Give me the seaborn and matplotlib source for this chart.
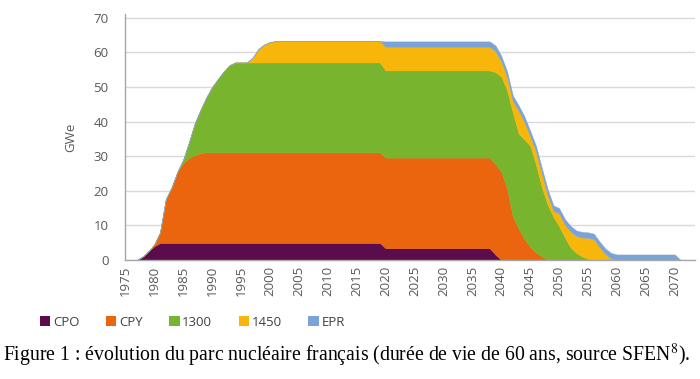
import matplotlib
matplotlib.use("Agg")
import matplotlib.pyplot as plt
from matplotlib.patches import Patch
import seaborn as sns
import pandas as pd

# ---- data (GWe, stacked by reactor series) ----
years = [1975, 1977, 1978, 1979, 1980, 1981, 1982, 1983, 1984, 1985, 1986, 1987, 1988,
         1989, 1990, 1991, 1992, 1993, 1994, 1996, 1997, 1998, 1999, 2000, 2001, 2019,
         2020, 2038, 2039, 2040, 2041, 2042, 2043, 2044, 2045, 2046, 2047, 2048, 2049,
         2050, 2051, 2052, 2053, 2054, 2055, 2056, 2057, 2058, 2059, 2060, 2070, 2071, 2073]

cpo = [0, 0, 1, 2.5, 4, 4.9, 4.9, 4.9, 4.9, 4.9, 4.9, 4.9, 4.9,
       4.9, 4.9, 4.9, 4.9, 4.9, 4.9, 4.9, 4.9, 4.9, 4.9, 4.9, 4.9, 4.9,
       3.4, 3.4, 1.5, 0, 0, 0, 0, 0, 0, 0, 0, 0, 0,
       0, 0, 0, 0, 0, 0, 0, 0, 0, 0, 0, 0, 0, 0]

cpy = [0, 0, 0, 0, 0.5, 3.1, 12.7, 16.1, 20.6, 23.1, 24.6, 25.4, 26.0,
       26.2, 26.2, 26.2, 26.2, 26.2, 26.2, 26.2, 26.2, 26.2, 26.2, 26.2, 26.2, 26.2,
       26.2, 26.2, 26.1, 25.5, 20.5, 12.5, 9, 6, 3.8, 2.2, 1.0, 0.3, 0,
       0, 0, 0, 0, 0, 0, 0, 0, 0, 0, 0, 0, 0, 0]

s1300 = [0, 0, 0, 0, 0, 0, 0, 0, 0, 1, 4.5, 9.2, 12.5,
         15.9, 18.9, 21.2, 23.4, 25.2, 26.0, 26.0, 26.0, 26.0, 26.0, 26.0, 26.0, 26.0,
         25.2, 25.2, 26.7, 27.5, 28.5, 30, 27.5, 28.8, 29.2, 25.3, 20, 15.7, 12.5,
         9.7, 6.5, 3.5, 2, 1, 0.3, 0, 0, 0, 0, 0, 0, 0, 0]

s1450 = [0, 0, 0, 0, 0, 0, 0, 0, 0, 0, 0, 0, 0,
         0, 0, 0, 0, 0, 0, 0, 1.4, 3.9, 5.2, 5.9, 6.2, 6.2,
         6.8, 6.8, 6.1, 4.4, 3.9, 3.4, 6.6, 5.1, 2.7, 3.9, 4.0, 2.9, 1.7,
         3.7, 3.7, 4.7, 4.9, 5.5, 6.1, 6.0, 3.7, 1.7, 0.4, 0, 0, 0, 0]

epr = [0, 0, 0, 0, 0, 0, 0, 0, 0, 0, 0, 0, 0,
       0, 0, 0, 0, 0, 0, 0, 0, 0, 0, 0, 0, 0,
       1.6, 1.6, 1.6, 1.6, 1.6, 1.6, 1.6, 1.6, 1.6, 1.6, 1.6, 1.6, 1.6,
       1.6, 1.6, 1.6, 1.6, 1.6, 1.6, 1.6, 1.6, 1.6, 1.6, 1.6, 1.6, 0, 0]

series = ["CPO", "CPY", "1300", "1450", "EPR"]
colors = ["#5C0B4C", "#EA650D", "#78B42D", "#F8B60A", "#7AA3D8"]
xticks = list(range(1975, 2071, 5))
yticks = list(range(0, 71, 10))
caption = "Figure 1 : évolution du parc nucléaire français (durée de vie de 60 ans, source SFEN$^{8}$)."

df = pd.DataFrame({"year": years, "CPO": cpo, "CPY": cpy, "1300": s1300,
                   "1450": s1450, "EPR": epr})

sns.set_theme(style="white")
plt.rcParams["font.family"] = ["Open Sans", "DejaVu Sans"]
plt.rcParams["mathtext.fontset"] = "stix"

fig = plt.figure(figsize=(7, 3.79), dpi=100)
ax = fig.add_axes([0.179, 0.314, 0.814, 0.648])

ax.stackplot(df["year"], *[df[s] for s in series], colors=colors,
             labels=series, edgecolor="face", linewidth=0.3)

ax.set_xlim(1975, 2073.5)
ax.set_ylim(0, 71)
ax.set_yticks(yticks)
ax.set_xticks(xticks)
ax.set_xticklabels([str(x) for x in xticks], rotation=90)
ax.yaxis.grid(True, color="#D9D9D9", linewidth=1)
ax.xaxis.grid(False)
ax.set_axisbelow(True)
for side in ["top", "right"]:
    ax.spines[side].set_visible(False)
for side in ["left", "bottom"]:
    ax.spines[side].set_color("#A6A6A6")
    ax.spines[side].set_linewidth(1)
ax.tick_params(axis="y", length=0, pad=12, labelsize=9.5, labelcolor="#595959")
ax.tick_params(axis="x", length=0, pad=4, labelsize=9.5, labelcolor="#595959")
ax.set_ylabel("GWe", fontsize=9.5, color="#595959")
ax.yaxis.set_label_coords(-0.084, 0.5)
ax.set_xlabel("")

handles = [Patch(facecolor=c, edgecolor="none") for c in colors]
fig.legend(handles, series, loc="center left", bbox_to_anchor=(0.057, 1 - 322 / 379),
           ncol=5, frameon=False, handlelength=0.8, handleheight=0.85,
           handletextpad=0.2, columnspacing=2.0, fontsize=9.5, labelcolor="#404040",
           borderpad=0, borderaxespad=0)

fig.text(0.004, 1 - 355 / 379, caption, family="Liberation Serif", fontsize=14.2,
         color="black", va="center", ha="left")

fig.savefig("out.png", dpi=100)
